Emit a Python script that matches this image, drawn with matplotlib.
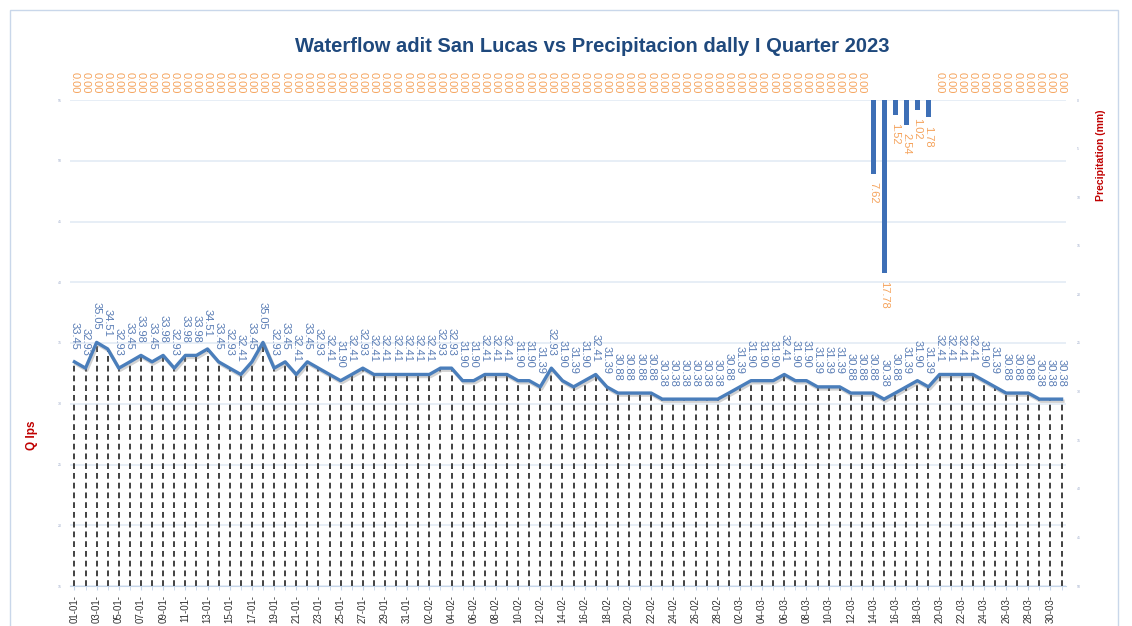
import numpy as np
import pandas as pd
import matplotlib
matplotlib.use('Agg')
import matplotlib.pyplot as plt
from matplotlib import patheffects as pe
from matplotlib.patches import Rectangle

plt.rcParams['font.family'] = ['Liberation Sans', 'DejaVu Sans']

# daily categories, Q1 2023
days = pd.date_range('2023-01-01', '2023-03-31', freq='D')
day_labels = [d.strftime('%d-%m-') for d in days]

# flow at adit (lps)
flow = [33.45, 32.93, 35.05, 34.51, 32.93, 33.45, 33.98, 33.45, 33.98, 32.93,
        33.98, 33.98, 34.51, 33.45, 32.93, 32.41, 33.45, 35.05, 32.93,
        33.45, 32.41, 33.45, 32.93, 32.41, 31.90, 32.41, 32.93, 32.41, 32.41,
        32.41, 32.41, 32.41, 32.41, 32.93, 32.93, 31.90, 31.90, 32.41,
        32.41, 32.41, 31.90, 31.90, 31.39, 32.93, 31.90, 31.39, 31.90, 32.41,
        31.39, 30.88, 30.88, 30.88, 30.88, 30.38, 30.38, 30.38, 30.38,
        30.38, 30.38, 30.88, 31.39, 31.90, 31.90, 31.90, 32.41, 31.90, 31.90,
        31.39, 31.39, 31.39, 30.88, 30.88, 30.88, 30.38,
        30.88, 31.39, 31.90, 31.39, 32.41, 32.41, 32.41, 32.41, 31.90, 31.39,
        30.88, 30.88, 30.88, 30.38, 30.38, 30.38]

# daily precipitation (mm), only rain 14-03 .. 19-03
precip = [0.0] * 72 + [7.62, 17.78, 1.52, 2.54, 1.02, 1.78] + [0.0] * 12

fig = plt.figure(figsize=(11.32, 6.26), dpi=100)
ax = fig.add_axes([70 / 1132, 1 - 586 / 626, 996 / 1132, 486 / 626])
ax2 = ax.twinx()

x = np.arange(len(flow))

# left axis: flow
ax.set_xlim(-0.4, len(flow) - 0.6)
ax.set_ylim(15, 55)
ax.set_yticks(np.arange(15, 56, 5))
ax.yaxis.grid(True, color='#e3ebf5', lw=1.2)
ax.set_axisbelow(True)

ax.vlines(x, 15, flow, colors='#333333', linestyles=(0, (3.2, 2.2)), lw=1.3, zorder=2)
ax.plot(x, flow, color='#4a7ebb', lw=2.4, solid_joinstyle='round', zorder=3,
        path_effects=[pe.SimpleLineShadow(offset=(1, -1.5), shadow_color='gray', alpha=0.35),
                      pe.Normal()])

for xi, v in zip(x, flow):
    ax.annotate(f'{v:.2f}', (xi, v), xytext=(0, 9), textcoords='offset points',
                rotation=270, ha='center', va='bottom', fontsize=8, color='#5a7db5')

ax.set_xticks(x[::2])
ax.set_xticklabels(day_labels[::2], rotation=90, fontsize=7, color='#333333')
ax.set_xticks(x, minor=True)
ax.tick_params(axis='x', which='both', length=3, color='#c6d6ea')
ax.tick_params(axis='y', length=0, labelsize=2.5, labelcolor='#9aa8c8', pad=6)
for s in ['top', 'left', 'right']:
    ax.spines[s].set_visible(False)
ax.spines['bottom'].set_color('#c6d6ea')

# right axis: precipitation hanging from top
ax2.set_ylim(50, 0)
ax2.set_yticks(np.arange(0, 51, 5))
ax2.bar(x, precip, width=0.45, color='#3d6fb6', zorder=3)
for xi, p in zip(x, precip):
    if p == 0:
        ax2.annotate('0.00', (xi, 0), xytext=(0, 5), textcoords='offset points',
                     rotation=270, ha='center', va='bottom', fontsize=8,
                     color='#f5a35c', annotation_clip=False)
    else:
        ax2.annotate(f'{p:.2f}', (xi, p), xytext=(0, -6), textcoords='offset points',
                     rotation=270, ha='center', va='top', fontsize=8,
                     color='#f5a35c', annotation_clip=False)
ax2.tick_params(axis='y', length=0, labelsize=2.5, labelcolor='#9aa8c8', pad=8)
for s in ax2.spines.values():
    s.set_visible(False)

fig.text(592 / 1132, 1 - 47 / 626, 'Waterflow adit San Lucas vs Precipitacion dally I Quarter 2023',
         ha='center', va='center', fontsize=14.5, fontweight='bold', color='#1f497d')
fig.text(32 / 1132, 1 - 435 / 626, 'Q lps', rotation=90, ha='center', va='center',
         fontsize=8.5, fontweight='bold', color='#c00000')
fig.text(1101 / 1132, 1 - 155 / 626, 'Precipitation (mm)', rotation=90, ha='center', va='center',
         fontsize=7.5, fontweight='bold', color='#c00000')

# light frame round the chart
fig.patches.append(Rectangle((10 / 1132, -0.01), 1108 / 1132, 1 - 10 / 626 + 0.01,
                             transform=fig.transFigure, fill=False, ec='#c9d7ea', lw=1))

fig.savefig('out.png', dpi=100)
